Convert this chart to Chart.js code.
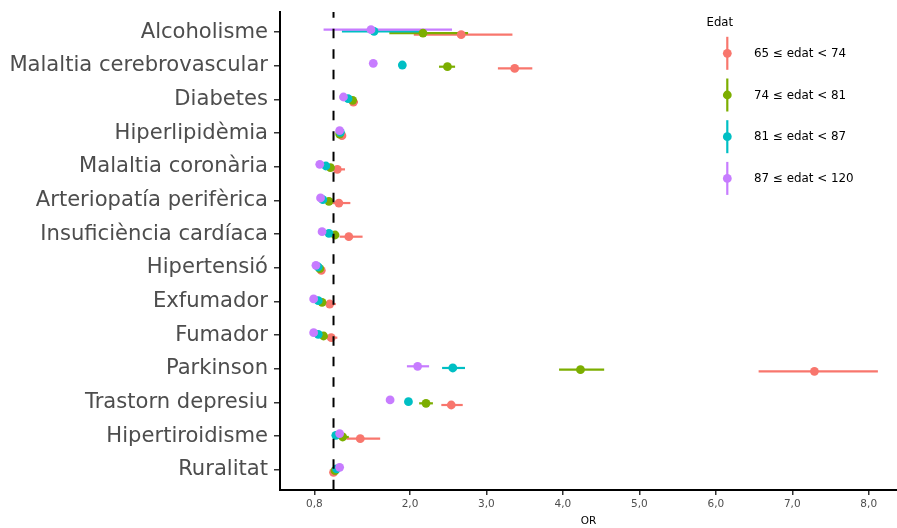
<!DOCTYPE html>
<html>
<head>
<meta charset="utf-8">
<script src="https://cdn.jsdelivr.net/npm/chart.js@4/dist/chart.umd.min.js"></script>
<style>
  html, body { margin: 0; padding: 0; background: #ffffff; }
  #wrap { width: 897px; height: 528px; }
</style>
</head>
<body>
<div id="wrap"><canvas id="chart" width="897" height="528"></canvas></div>
<script>
// Risk factors, listed top to bottom
const categories = [
  'Alcoholisme', 'Malaltia cerebrovascular', 'Diabetes', 'Hiperlipidèmia',
  'Malaltia coronària', 'Arteriopatía perifèrica', 'Insuficiència cardíaca',
  'Hipertensió', 'Exfumador', 'Fumador', 'Parkinson', 'Trastorn depresiu',
  'Hipertiroidisme', 'Ruralitat'
];

// Age groups
const groupLabels = ['65 ≤ edat < 74', '74 ≤ edat < 81', '81 ≤ edat < 87', '87 ≤ edat < 120'];
const groupColors = ['#F8766D', '#7CAE00', '#00BFC4', '#C77CFF'];

// Odds ratios with lower / upper confidence limits, one array per age group
const orG1 = [2.67, 3.37, 1.26, 1.11, 1.05, 1.07, 1.20, 0.84, 0.95, 0.97, 7.29, 2.54, 1.35, 1.00];
const loG1 = [2.05, 3.15, 1.20, 1.06, 0.96, 0.97, 1.08, 0.80, 0.90, 0.92, 6.56, 2.41, 1.17, 0.96];
const hiG1 = [3.34, 3.60, 1.32, 1.16, 1.15, 1.22, 1.38, 0.88, 1.03, 1.05, 8.12, 2.69, 1.61, 1.04];

const orG2 = [2.17, 2.49, 1.25, 1.08, 0.96, 0.94, 1.02, 0.82, 0.85, 0.87, 4.23, 2.21, 1.12, 1.02];
const loG2 = [1.73, 2.38, 1.21, 1.04, 0.92, 0.90, 0.98, 0.79, 0.82, 0.84, 3.95, 2.12, 1.00, 0.98];
const hiG2 = [2.76, 2.59, 1.30, 1.12, 1.00, 0.98, 1.07, 0.85, 0.89, 0.91, 4.54, 2.30, 1.20, 1.06];

const orG3 = [1.53, 1.90, 1.19, 1.09, 0.90, 0.86, 0.94, 0.80, 0.80, 0.80, 2.56, 1.98, 1.03, 1.04];
const loG3 = [1.11, 1.86, 1.16, 1.06, 0.87, 0.83, 0.91, 0.78, 0.78, 0.78, 2.42, 1.95, 0.99, 1.01];
const hiG3 = [2.20, 1.94, 1.22, 1.12, 0.93, 0.89, 0.97, 0.82, 0.82, 0.82, 2.72, 2.01, 1.08, 1.07];

const orG4 = [1.49, 1.52, 1.13, 1.08, 0.82, 0.83, 0.85, 0.77, 0.74, 0.74, 2.10, 1.74, 1.08, 1.08];
const loG4 = [0.87, 1.49, 1.11, 1.06, 0.80, 0.81, 0.83, 0.75, 0.72, 0.72, 1.96, 1.71, 1.05, 1.05];
const hiG4 = [2.55, 1.55, 1.15, 1.10, 0.84, 0.85, 0.87, 0.79, 0.76, 0.76, 2.25, 1.77, 1.11, 1.11];

// X-axis ticks and the no-effect reference
const xTicks = [0.75, 2, 3, 4, 5, 6, 7, 8];
const refOR = 1;

const groups = [
  { or: orG1, lo: loG1, hi: hiG1 },
  { or: orG2, lo: loG2, hi: hiG2 },
  { or: orG3, lo: loG3, hi: hiG3 },
  { or: orG4, lo: loG4, hi: hiG4 }
];

// small vertical dodge so the four groups do not sit on top of each other
const dodge = [0.075, 0.025, -0.025, -0.075];

const FONT = '"DejaVu Sans", "Liberation Sans", sans-serif';
Chart.defaults.font.family = FONT;

const datasets = groups.map((g, k) => ({
  label: groupLabels[k],
  data: categories.map((_, i) => ({ x: g.or[i], y: i + dodge[k] })),
  backgroundColor: groupColors[k],
  borderWidth: 0,
  pointRadius: 4.4,
  pointHoverRadius: 4.4,
  showLine: false,
  order: groups.length - 1 - k
}));

// horizontal confidence-interval segments, drawn under the points
const intervalPlugin = {
  id: 'intervals',
  beforeDatasetsDraw(chart) {
    const { ctx, chartArea, scales } = chart;
    ctx.save();
    ctx.beginPath();
    ctx.rect(chartArea.left, chartArea.top, chartArea.right - chartArea.left, chartArea.bottom - chartArea.top);
    ctx.clip();
    ctx.lineWidth = 2.2;
    ctx.lineCap = 'butt';
    groups.forEach((g, k) => {
      ctx.strokeStyle = groupColors[k];
      categories.forEach((_, i) => {
        const y = scales.y.getPixelForValue(i + dodge[k]);
        ctx.beginPath();
        ctx.moveTo(scales.x.getPixelForValue(g.lo[i]), y);
        ctx.lineTo(scales.x.getPixelForValue(g.hi[i]), y);
        ctx.stroke();
      });
    });
    ctx.restore();
  }
};

// dashed vertical line at OR = 1
const refLinePlugin = {
  id: 'refLine',
  afterDatasetsDraw(chart) {
    const { ctx, chartArea, scales } = chart;
    const x = scales.x.getPixelForValue(refOR);
    ctx.save();
    ctx.strokeStyle = '#000000';
    ctx.lineWidth = 2;
    ctx.setLineDash([9.5, 11]);
    ctx.lineDashOffset = 3.7;
    ctx.beginPath();
    ctx.moveTo(x, chartArea.top);
    ctx.lineTo(x, chartArea.bottom);
    ctx.stroke();
    ctx.restore();
  }
};

// legend with point-range keys, placed inside the panel
const legendPlugin = {
  id: 'rangeLegend',
  afterDraw(chart) {
    const { ctx } = chart;
    ctx.save();
    ctx.textAlign = 'left';
    ctx.textBaseline = 'middle';
    ctx.fillStyle = '#000000';
    ctx.font = '11.7px ' + FONT;
    ctx.fillText('Edat', 706.5, 22.5);
    const keyX = 727.3;
    groupLabels.forEach((label, k) => {
      const y = 53.3 + k * 41.7;
      ctx.strokeStyle = groupColors[k];
      ctx.lineWidth = 2.2;
      ctx.beginPath();
      ctx.moveTo(keyX, y - 16.5);
      ctx.lineTo(keyX, y + 16.5);
      ctx.stroke();
      ctx.fillStyle = groupColors[k];
      ctx.beginPath();
      ctx.arc(keyX, y, 4.4, 0, Math.PI * 2);
      ctx.fill();
      ctx.fillStyle = '#000000';
      ctx.font = '11.9px ' + FONT;
      ctx.fillText(label, 754, y + 0.5);
    });
    ctx.restore();
  }
};

new Chart(document.getElementById('chart'), {
  type: 'scatter',
  data: { datasets },
  plugins: [intervalPlugin, refLinePlugin, legendPlugin],
  options: {
    responsive: false,
    animation: false,
    devicePixelRatio: 1,
    layout: { autoPadding: false, padding: { top: 12, right: 0, bottom: 0, left: 0 } },
    plugins: {
      legend: { display: false },
      tooltip: { enabled: false }
    },
    scales: {
      x: {
        type: 'linear',
        position: 'bottom',
        min: 0.30,
        max: 8.37,
        afterBuildTicks(scale) { scale.ticks = xTicks.map(v => ({ value: v })); },
        afterFit(scale) {
          scale.height = 38;
          scale.paddingLeft = 0; scale.paddingRight = 0;
          scale.paddingTop = 0; scale.paddingBottom = 0;
        },
        ticks: {
          autoSkip: false,
          maxRotation: 0,
          padding: 3,
          color: '#4d4d4d',
          font: { size: 10.5 },
          callback: v => Number(v).toFixed(1).replace('.', ',')
        },
        grid: { drawOnChartArea: false, drawTicks: true, tickLength: 5, color: '#333333', lineWidth: 1.5 },
        border: { display: true, color: '#000000', width: 2 },
        title: {
          display: true,
          text: 'OR',
          color: '#000000',
          font: { size: 10.5 },
          padding: { top: 0, bottom: 0 }
        }
      },
      y: {
        type: 'linear',
        position: 'left',
        reverse: true,
        min: -0.6,
        max: 13.6,
        afterBuildTicks(scale) { scale.ticks = categories.map((_, i) => ({ value: i })); },
        afterFit(scale) {
          scale.width = 280;
          scale.paddingLeft = 0; scale.paddingRight = 0;
          scale.paddingTop = 0; scale.paddingBottom = 0;
        },
        ticks: {
          autoSkip: false,
          padding: 6,
          color: '#4d4d4d',
          font: { size: 21.1 },
          callback: v => categories[v]
        },
        grid: { drawOnChartArea: false, drawTicks: true, tickLength: 6, color: '#333333', lineWidth: 1.5 },
        border: { display: true, color: '#000000', width: 2 }
      }
    }
  }
});
</script>
</body>
</html>
